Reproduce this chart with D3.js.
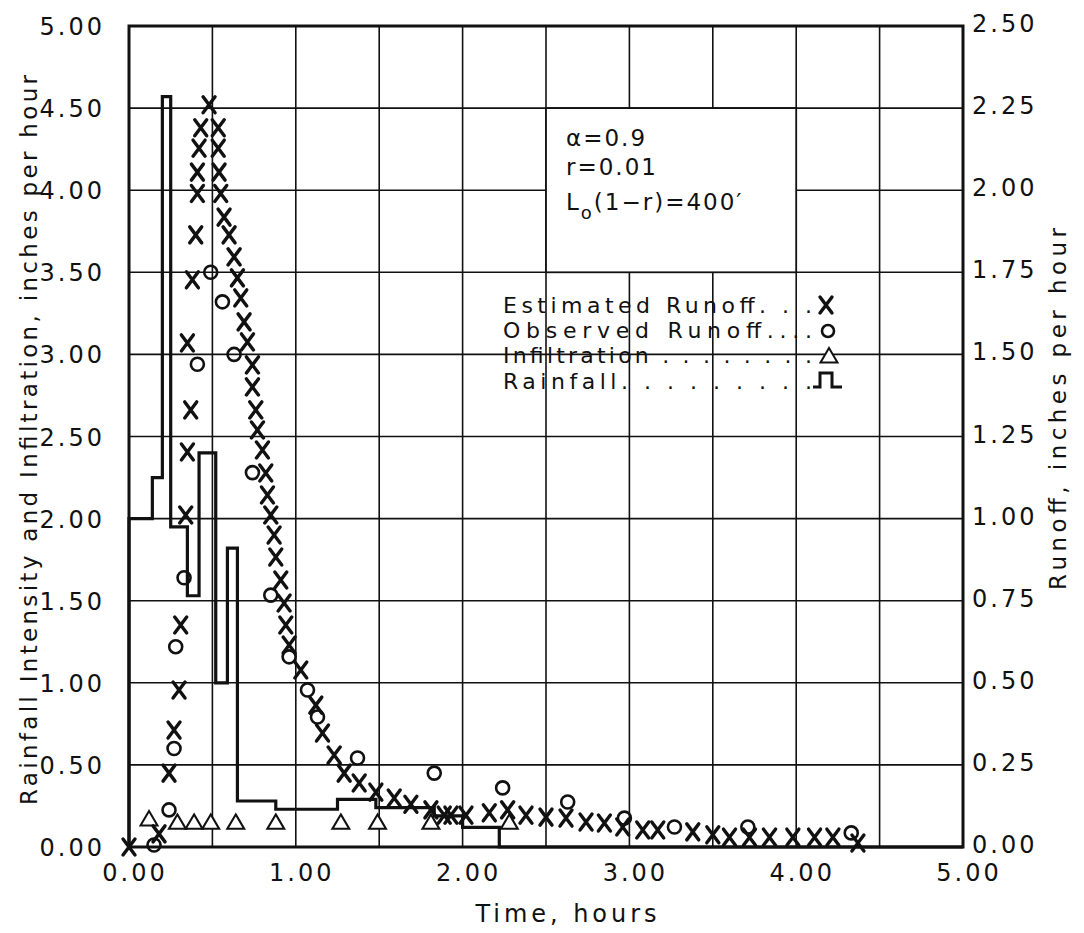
<!DOCTYPE html>
<html>
<head>
<meta charset="utf-8">
<script src="https://cdn.jsdelivr.net/npm/d3@7"></script>
<style>
  html, body { margin: 0; padding: 0; background: #fff; }
  svg { display: block; }
  text { font-family: "DejaVu Sans", "Liberation Sans", sans-serif; fill: #111; }
</style>
</head>
<body>
<svg id="chart" width="1084" height="933"></svg>
<script>
// Tick labels
const timeTicks = ["0.00", "1.00", "2.00", "3.00", "4.00", "5.00"];
const intensityTicks = ["0.00", "0.50", "1.00", "1.50", "2.00", "2.50", "3.00", "3.50", "4.00", "4.50", "5.00"];
const runoffTicks = ["0.00", "0.25", "0.50", "0.75", "1.00", "1.25", "1.50", "1.75", "2.00", "2.25", "2.50"];

// Rainfall hyetograph: each rate holds from its start time to the next one (in./hr)
const rainStart = [0, 0.14, 0.20, 0.25, 0.35, 0.42, 0.52, 0.59, 0.65, 0.88, 1.25, 1.48, 1.83, 2.00, 2.22, 5.00];
const rainRate  = [2.00, 2.25, 4.57, 1.95, 1.53, 2.40, 1.00, 1.82, 0.28, 0.23, 0.29, 0.24, 0.19, 0.12, 0.00, 0.00];

// Estimated runoff (in./hr, right axis)
const estTime = [0.00, 0.18, 0.24, 0.27, 0.30, 0.31, 0.34, 0.35, 0.37, 0.35, 0.38, 0.40, 0.41, 0.41, 0.42, 0.43, 0.48,
  0.535, 0.535, 0.54, 0.55, 0.57, 0.60, 0.63, 0.65, 0.67, 0.69, 0.71, 0.74, 0.74, 0.76, 0.77, 0.80, 0.82, 0.83, 0.85,
  0.87, 0.88, 0.91, 0.93, 0.94, 0.96, 1.03, 1.12, 1.16, 1.23, 1.29, 1.38, 1.48, 1.59, 1.69, 1.81, 1.89, 1.93, 2.02,
  2.16, 2.27, 2.38, 2.50, 2.62, 2.74, 2.85, 2.96, 3.08, 3.17, 3.38, 3.50, 3.60, 3.72, 3.84, 3.98, 4.11, 4.22, 4.37];
const estRunoff = [0.00, 0.04, 0.225, 0.356, 0.478, 0.676, 1.011, 1.203, 1.331, 1.535, 1.727, 1.864, 1.990, 2.055, 2.128, 2.190, 2.260,
  2.190, 2.128, 2.055, 1.990, 1.918, 1.864, 1.797, 1.733, 1.672, 1.599, 1.538, 1.468, 1.401, 1.331, 1.270, 1.209, 1.139, 1.072, 1.011,
  0.950, 0.883, 0.813, 0.743, 0.676, 0.615, 0.539, 0.432, 0.347, 0.280, 0.225, 0.195, 0.167, 0.149, 0.130, 0.113, 0.097, 0.097, 0.097,
  0.104, 0.113, 0.097, 0.091, 0.088, 0.076, 0.073, 0.061, 0.052, 0.052, 0.046, 0.037, 0.030, 0.030, 0.030, 0.030, 0.030, 0.030, 0.012];

// Observed runoff (in./hr, right axis)
const obsTime = [0.15, 0.24, 0.27, 0.28, 0.33, 0.41, 0.49, 0.56, 0.63, 0.74, 0.85, 0.96, 1.07, 1.13, 1.37, 1.83, 2.24, 2.63, 2.97, 3.27, 3.71, 4.33];
const obsRunoff = [0.006, 0.113, 0.300, 0.610, 0.820, 1.470, 1.750, 1.660, 1.500, 1.140, 0.767, 0.579, 0.478, 0.396, 0.271, 0.225, 0.180, 0.137, 0.088, 0.061, 0.061, 0.043];

// Infiltration (in./hr, left axis)
const infTime = [0.12, 0.29, 0.39, 0.49, 0.64, 0.88, 1.27, 1.49, 1.81, 2.28];
const infRate = [0.17, 0.15, 0.15, 0.15, 0.15, 0.15, 0.15, 0.15, 0.15, 0.15];

const svg = d3.select("#chart");

const x = d3.scaleLinear().domain([0, 5]).range([129, 963]);
const yL = d3.scaleLinear().domain([0, 5]).range([847, 26]);
const yR = d3.scaleLinear().domain([0, 2.5]).range([847, 26]);

// Grid
const grid = svg.append("g").attr("stroke", "#111").attr("stroke-width", 1.6);
grid.selectAll("line.v").data(d3.range(1, 10)).join("line")
  .attr("x1", d => x(d * 0.5)).attr("x2", d => x(d * 0.5))
  .attr("y1", yL(0)).attr("y2", yL(5));
grid.selectAll("line.h").data(d3.range(1, 10)).join("line")
  .attr("y1", d => yL(d * 0.5)).attr("y2", d => yL(d * 0.5))
  .attr("x1", x(0)).attr("x2", x(5));

// Parameter box
const box = svg.append("g");
box.append("rect")
  .attr("x", x(2.5)).attr("y", yL(4.5))
  .attr("width", x(4.0) - x(2.5)).attr("height", yL(3.5) - yL(4.5))
  .attr("fill", "#fff").attr("stroke", "#111").attr("stroke-width", 1.8);
const bx = x(2.5) + 20;
box.append("text").attr("x", bx).attr("y", 146).attr("font-size", 23).attr("letter-spacing", 2).text("α=0.9");
box.append("text").attr("x", bx).attr("y", 175).attr("font-size", 23).attr("letter-spacing", 2).text("r=0.01");
const l3 = box.append("text").attr("x", bx).attr("y", 210).attr("font-size", 23).attr("letter-spacing", 2);
l3.append("tspan").text("L");
l3.append("tspan").attr("font-size", 18).attr("dy", 9).text("o");
l3.append("tspan").attr("dy", -9).text("(1−r)=400′");

// Frame
svg.append("rect")
  .attr("x", x(0)).attr("y", yL(5))
  .attr("width", x(5) - x(0)).attr("height", yL(0) - yL(5))
  .attr("fill", "none").attr("stroke", "#111").attr("stroke-width", 3);

// Axis labels
const axisFont = 24;
svg.append("g").selectAll("text").data(timeTicks).join("text")
  .attr("x", (d, i) => x(i) + 6).attr("y", 881)
  .attr("text-anchor", "middle").attr("font-size", axisFont).attr("letter-spacing", 3)
  .text(d => d);
svg.append("g").selectAll("text").data(intensityTicks).join("text")
  .attr("x", 105).attr("y", (d, i) => yL(i * 0.5) + 9)
  .attr("text-anchor", "end").attr("font-size", axisFont).attr("letter-spacing", 3)
  .text(d => d);
svg.append("g").selectAll("text").data(runoffTicks).join("text")
  .attr("x", 972).attr("y", (d, i) => yR(i * 0.25) + 6)
  .attr("text-anchor", "start").attr("font-size", axisFont).attr("letter-spacing", 3)
  .text(d => d);

svg.append("text")
  .attr("x", 566).attr("y", 922).attr("text-anchor", "middle")
  .attr("font-size", 24).attr("textLength", 181).attr("lengthAdjust", "spacing")
  .text("Time, hours");
svg.append("text")
  .attr("transform", "translate(37,440) rotate(-90)").attr("text-anchor", "middle")
  .attr("font-size", 23).attr("textLength", 730).attr("lengthAdjust", "spacing")
  .text("Rainfall Intensity and Infiltration, inches per hour");
svg.append("text")
  .attr("transform", "translate(1066,409) rotate(-90)").attr("text-anchor", "middle")
  .attr("font-size", 23).attr("textLength", 362).attr("lengthAdjust", "spacing")
  .text("Runoff, inches per hour");

// Rainfall steps
const rainPts = rainStart.map((t, i) => [t, rainRate[i]]);
svg.append("path")
  .datum([[0, 0]].concat(rainPts))
  .attr("fill", "none").attr("stroke", "#111").attr("stroke-width", 3.2)
  .attr("d", d3.line().x(d => x(d[0])).y(d => yL(d[1])).curve(d3.curveStepAfter));

// Marker shapes
const xMark = "M-6,-8L6,8M6,-8L-6,8";
const triMark = "M0,-8L8.5,6.5L-8.5,6.5Z";

// Infiltration
svg.append("g").selectAll("path").data(infTime).join("path")
  .attr("transform", (d, i) => `translate(${x(d)},${yL(infRate[i])})`)
  .attr("d", triMark).attr("fill", "#fff").attr("stroke", "#111").attr("stroke-width", 2);

// Observed runoff
svg.append("g").selectAll("circle").data(obsTime).join("circle")
  .attr("cx", d => x(d)).attr("cy", (d, i) => yR(obsRunoff[i])).attr("r", 6.5)
  .attr("fill", "none").attr("stroke", "#111").attr("stroke-width", 2.6);

// Estimated runoff
svg.append("g").selectAll("path").data(estTime).join("path")
  .attr("transform", (d, i) => `translate(${x(d)},${yR(estRunoff[i])})`)
  .attr("d", xMark).attr("fill", "none").attr("stroke", "#111").attr("stroke-width", 3.4)
  .attr("stroke-linecap", "round");

// Legend
const leg = svg.append("g");
const lx = 503, lEnd = 812;
const legRows = [
  { label: "Estimated Runoff. . .", y: 313 },
  { label: "Observed Runoff....", y: 338 },
  { label: "Infiltration . . . . . . . .", y: 363 },
  { label: "Rainfall. . . . . . . . .", y: 389 }
];
leg.selectAll("text").data(legRows).join("text")
  .attr("x", lx).attr("y", d => d.y)
  .attr("font-size", 22).attr("textLength", lEnd - lx).attr("lengthAdjust", "spacing")
  .text(d => d.label);
leg.append("path").attr("transform", "translate(826,305)").attr("d", xMark)
  .attr("fill", "none").attr("stroke", "#111").attr("stroke-width", 3.4).attr("stroke-linecap", "round");
leg.append("circle").attr("cx", 828).attr("cy", 331).attr("r", 6)
  .attr("fill", "none").attr("stroke", "#111").attr("stroke-width", 2.6);
leg.append("path").attr("transform", "translate(829,356)").attr("d", triMark)
  .attr("fill", "#fff").attr("stroke", "#111").attr("stroke-width", 2);
leg.append("path").attr("d", "M813,387H820V373H832V387H842")
  .attr("fill", "none").attr("stroke", "#111").attr("stroke-width", 3);
</script>
</body>
</html>
